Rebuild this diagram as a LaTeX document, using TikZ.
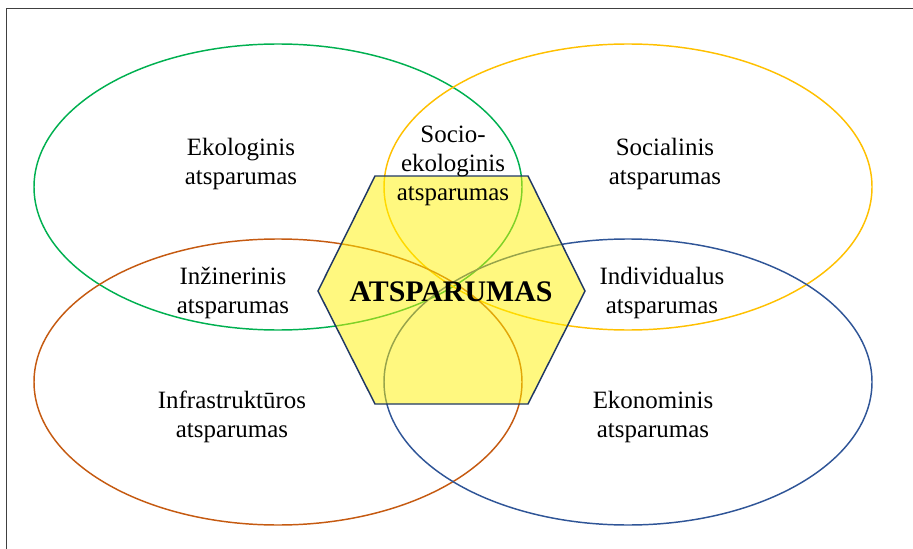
\documentclass[tikz,border=0pt]{standalone}
\usepackage{fontspec}
\setmainfont{Liberation Serif}
\usepackage{xcolor}
\usepackage{tikz}
\usetikzlibrary{positioning}
\definecolor{ekogreen}{HTML}{00B050}
\definecolor{socyellow}{HTML}{FFC000}
\definecolor{infraorange}{HTML}{C55A11}
\definecolor{ekonblue}{HTML}{2F5597}
\definecolor{hexborder}{HTML}{203864}
\definecolor{framegray}{HTML}{404040}

\begin{document}
\begin{tikzpicture}[x=0.75pt, y=-0.75pt,
  lbl/.style={align=center, font=\fontsize{18.7}{22}\selectfont, inner sep=0pt}]
  \useasboundingbox (0,0) rectangle (913,549);
  % frame
  \draw[framegray, line width=1pt] (6.5,549) -- (6.5,8.5) -- (913,8.5);
  % four circles of resilience
  \draw[ekogreen, line width=1.1pt] (278,187) ellipse (244 and 143);
  \draw[socyellow, line width=1.1pt] (628,187) ellipse (244 and 143);
  \draw[infraorange, line width=1.1pt] (278,382) ellipse (244 and 143);
  \draw[ekonblue, line width=1.1pt] (628,382) ellipse (244 and 143);
  % centre hexagon
  \fill[yellow, fill opacity=0.5] (375,176) -- (528,176) -- (585,291) -- (528,404) -- (375,404) -- (318,291) -- cycle;
  \draw[hexborder, line width=1.1pt] (375,176) -- (528,176) -- (585,291) -- (528,404) -- (375,404) -- (318,291) -- cycle;
  \node[font=\fontsize{22.4}{26}\selectfont\bfseries, inner sep=0pt] (core) at (451,292) {ATSPARUMAS};
  % labels
  \node[lbl] (ekol) at (241,164) {Ekologinis\\atsparumas};
  \node[lbl] (socekol) at (453,166) {Socio-\\ekologinis\\atsparumas};
  \node[lbl] (soc) at (665,164) {Socialinis\\atsparumas};
  \node[lbl] (inz) at (233,293) {Inžinerinis\\atsparumas};
  \node[lbl] (ind) at (662,293) {Individualus\\atsparumas};
  \node[lbl] (infra) at (232,417) {Infrastruktūros\\atsparumas};
  \node[lbl] (ekon) at (653,417) {Ekonominis\\atsparumas};
\end{tikzpicture}
\end{document}
